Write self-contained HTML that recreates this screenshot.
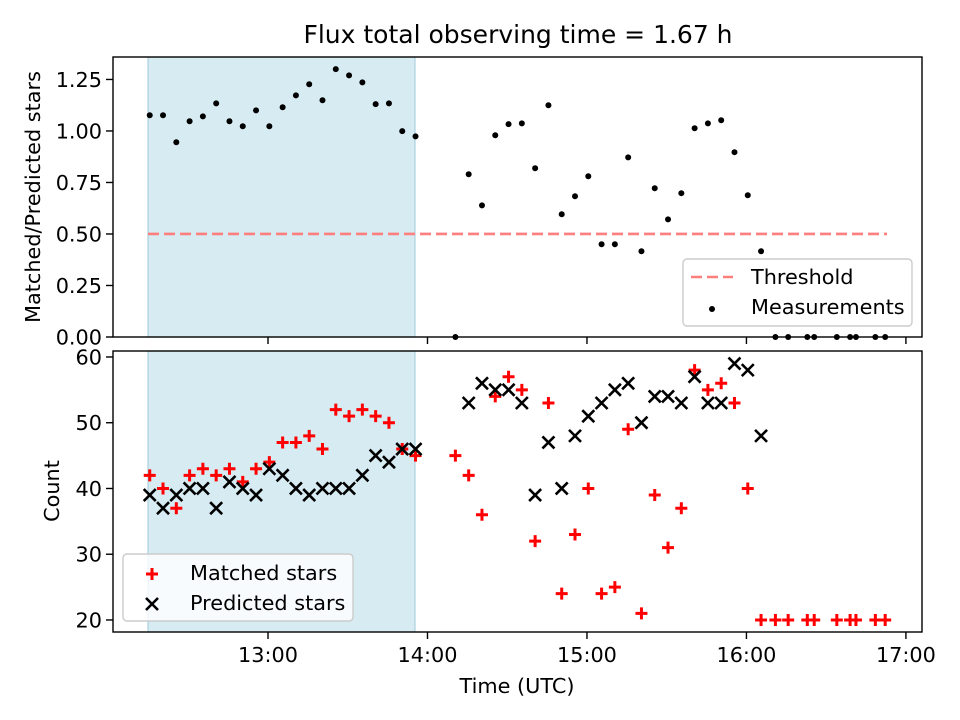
<!DOCTYPE html>
<html><head><meta charset="utf-8"><style>
html,body{margin:0;padding:0;background:#fff;}
svg{display:block;font-family:"DejaVu Sans","Liberation Sans",sans-serif;}
</style></head><body>
<svg id="chart" width="960" height="720" viewBox="0 0 960 720"></svg>
<script>
// ---- data (times in minutes after 12:00 UTC) ----
const seqIdx = [0,1,2,3,4,5,6,7,8,9,10,11,12,13,14,15,16,17,18,19,20,23,24,25,26,27,28,29,30,31,32,33,34,35,36,37,38,39,40,41,42,43,44,45,46];
const tailTimes = [250.9,255.7,262.9,265.5,274,279,281.2,288.5,292.2];
const ratioSeq = [1.076,1.076,0.945,1.047,1.071,1.134,1.047,1.023,1.100,1.023,1.115,1.173,1.227,1.149,1.300,1.270,1.236,1.130,1.134,0.999,0.974,0,0.790,0.639,0.979,1.033,1.037,0.819,1.125,0.596,0.683,0.780,0.450,0.450,0.872,0.416,0.722,0.571,0.698,1.013,1.037,1.052,0.897,0.688,0.416];
const ratioTail = [0,0,0,0,0,0,0,0,0];
const matchedSeq = [42,40,37,42,43,42,43,41,43,44,47,47,48,46,52,51,52,51,50,46,45,45,42,36,54,57,55,32,53,24,33,40,24,25,49,21,39,31,37,58,55,56,53,40,20];
const matchedTail = [20,20,20,20,20,20,20,20,20];
const predictedSeq = [39,37,39,40,40,37,41,40,39,43,42,40,39,40,40,40,42,45,44,46,46,null,53,56,55,55,53,39,47,40,48,51,53,55,56,50,54,54,53,57,53,53,59,58,48];
const topTicks = [0,0.25,0.5,0.75,1.0,1.25];
const topTickLabels = ["0.00","0.25","0.50","0.75","1.00","1.25"];
const botTicks = [20,30,40,50,60];
const xTicks = [60,120,180,240,300];
const xTickLabels = ["13:00","14:00","15:00","16:00","17:00"];
const threshold = 0.5;
const thresholdRange = [14.85,292.9];
const shadeRange = [14.85,115.3];

const NS="http://www.w3.org/2000/svg";
const svg=document.getElementById('chart');
function el(tag,attrs,parent){const e=document.createElementNS(NS,tag);for(const k in attrs)e.setAttribute(k,attrs[k]);(parent||svg).appendChild(e);return e;}
const L=113,R=922,T1=57,B1=337,T2=351,B2=632;
const xMin=1.68,xMax=306.05;
const FS=20.8;
function X(m){return L+(m-xMin)/(xMax-xMin)*(R-L);}
function Y1(v){return B1-(v-0)/(1.359-0)*(B1-T1);}
function Y2(v){return B2-(v-18.17)/(60.91-18.17)*(B2-T2);}
const seqTimes=seqIdx.map(n=>15.5+5*n);

function dot(cx,cy,g){const c=el('circle',{cx:cx,cy:cy,r:3,fill:'#000'},g);

}
function plus(cx,cy,g){const p=el('path',{d:`M${cx-6},${cy}H${cx+6}M${cx},${cy-6}V${cy+6}`,stroke:'#f00','stroke-width':3,fill:'none'},g);

}
function cross(cx,cy,g){const p=el('path',{d:`M${cx-6},${cy-6}L${cx+6},${cy+6}M${cx-6},${cy+6}L${cx+6},${cy-6}`,stroke:'#000','stroke-width':2.6,fill:'none'},g);

}

// title
const title=el('text',{x:518,y:43,'text-anchor':'middle','font-size':25,fill:'#000'});
title.textContent='Flux total observing time = 1.67 h';



function panel(T,B,name){
  const g=el('g',{});
  
  
  const s=el('rect',{x:X(shadeRange[0]),y:T,width:X(shadeRange[1])-X(shadeRange[0]),height:B-T,fill:'#add8e6','fill-opacity':0.5,stroke:'#9fcbdb','stroke-width':1},g);
  
  
  return g;
}
// ---- top panel ----
const g1=panel(T1,B1,'ratio-panel');
const th=el('line',{x1:X(thresholdRange[0]),x2:X(thresholdRange[1]),y1:Y1(threshold),y2:Y1(threshold),stroke:'#ff7f7f','stroke-width':2.6,'stroke-dasharray':'11,5'},g1);


seqTimes.forEach((t,i)=>dot(X(t),Y1(ratioSeq[i]),g1));
tailTimes.forEach((t,i)=>dot(X(t),Y1(ratioTail[i]),g1));
// ---- bottom panel ----
const g2=panel(T2,B2,'count-panel');
seqTimes.forEach((t,i)=>{plus(X(t),Y2(matchedSeq[i]),g2);});
tailTimes.forEach((t,i)=>plus(X(t),Y2(matchedTail[i]),g2));
seqTimes.forEach((t,i)=>{if(predictedSeq[i]!=null)cross(X(t),Y2(predictedSeq[i]),g2);});

// frames, ticks
function frame(T,B,name){const r=el('rect',{x:L,y:T,width:R-L,height:B-T,fill:'none',stroke:'#000','stroke-width':1.4});

}
frame(T1,B1,'top-axes-frame');frame(T2,B2,'bottom-axes-frame');
topTicks.forEach((v,i)=>{const y=Y1(v);el('line',{x1:L-7,x2:L,y1:y,y2:y,stroke:'#000','stroke-width':1.4});
const t=el('text',{x:L-11,y:y+7.5,'text-anchor':'end','font-size':FS,fill:'#000'});t.textContent=topTickLabels[i];

});
botTicks.forEach(v=>{const y=Y2(v);el('line',{x1:L-7,x2:L,y1:y,y2:y,stroke:'#000','stroke-width':1.4});
const t=el('text',{x:L-11,y:y+7.5,'text-anchor':'end','font-size':FS,fill:'#000'});t.textContent=String(v);

});
xTicks.forEach((m,i)=>{const x=X(m);
el('line',{x1:x,x2:x,y1:B1,y2:B1+7,stroke:'#000','stroke-width':1.4});
el('line',{x1:x,x2:x,y1:B2,y2:B2+7,stroke:'#000','stroke-width':1.4});
const t=el('text',{x:x,y:B2+30,'text-anchor':'middle','font-size':FS,fill:'#000'});t.textContent=xTickLabels[i];

});

// axis labels
const yl1=el('text',{x:0,y:0,transform:'translate(40,197) rotate(-90)','text-anchor':'middle','font-size':FS,fill:'#000'});
yl1.textContent='Matched/Predicted stars';


const yl2=el('text',{x:0,y:0,transform:'translate(59,491) rotate(-90)','text-anchor':'middle','font-size':FS,fill:'#000'});
yl2.textContent='Count';


const xl=el('text',{x:517,y:693,'text-anchor':'middle','font-size':FS,fill:'#000'});
xl.textContent='Time (UTC)';



// legends
const lg1=el('g',{});


el('rect',{x:683,y:259,width:229,height:67,rx:4,fill:'#fff','fill-opacity':0.8,stroke:'#ccc','stroke-width':1.4},lg1);
const le1=el('line',{x1:691,x2:733,y1:277,y2:277,stroke:'#ff7f7f','stroke-width':2.6,'stroke-dasharray':'11,5'},lg1);


const lt1=el('text',{x:751,y:284,'font-size':FS,fill:'#000'},lg1);lt1.textContent='Threshold';


el('circle',{cx:712,cy:309,r:3,fill:'#000'},lg1);
const lt2=el('text',{x:751,y:314,'font-size':FS,fill:'#000'},lg1);lt2.textContent='Measurements';



const lg2=el('g',{});


el('rect',{x:123,y:554,width:230,height:67,rx:4,fill:'#fff','fill-opacity':0.8,stroke:'#ccc','stroke-width':1.4},lg2);
plus(152,574,lg2);
const lt3=el('text',{x:190,y:580,'font-size':FS,fill:'#000'},lg2);lt3.textContent='Matched stars';


cross(152,604,lg2);
const lt4=el('text',{x:190,y:610,'font-size':FS,fill:'#000'},lg2);lt4.textContent='Predicted stars';


</script>
</body></html>
